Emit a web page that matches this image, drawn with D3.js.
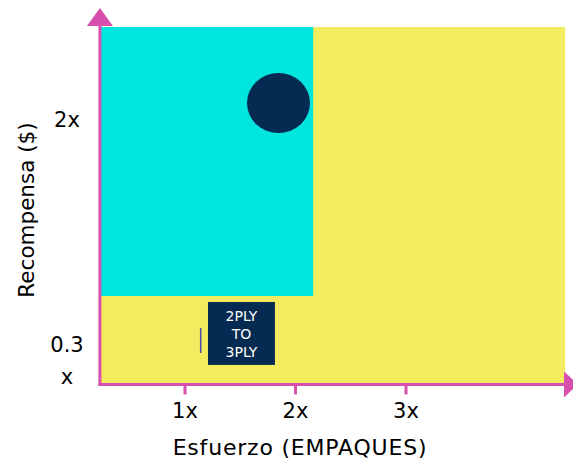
<!DOCTYPE html>
<html>
<head>
<meta charset="utf-8">
<script src="https://cdn.jsdelivr.net/npm/d3@7"></script>
<style>
  body { margin: 0; background: #fff; }
  svg text { font-family: "DejaVu Sans", sans-serif; }
</style>
</head>
<body>
<svg width="573" height="463"></svg>
<script>
// axis ticks
var xTicks = [1, 2, 3];
var xTickLabels = ["1x", "2x", "3x"];
var yTicks = [2, 0.3];
var yTickLabels = [["2x"], ["0.3", "x"]];

// quadrant areas (data units)
var quadrants = [
  { x0: 0.23, x1: 4.44, y0: 0.145, y1: 2.655, color: "#f3ec5e" },
  { x0: 0.23, x1: 2.16, y0: 0.758, y1: 2.655, color: "#00e5de" }
];

// bubble and product box
var bubble = { cx: 1.846, cy: 2.119, rx: 0.285, ry: 0.212 };
var productBox = { x0: 1.208, x1: 1.814, y0: 0.272, y1: 0.716 };
var productLines = ["2PLY", "TO", "3PLY"];
var marker = { x: 1.142, y0: 0.356, y1: 0.532 };

var svg = d3.select("svg");
var pink = "#d84fae";

var x = d3.scaleLinear().domain([0, 1]).range([74.5, 185]);
var y = d3.scaleLinear().domain([0, 1]).range([403.5, 261.7]);

svg.selectAll("rect.quad").data(quadrants).enter().append("rect")
  .attr("class", "quad")
  .attr("x", function(d) { return x(d.x0); })
  .attr("y", function(d) { return y(d.y1); })
  .attr("width", function(d) { return x(d.x1) - x(d.x0); })
  .attr("height", function(d) { return y(d.y0) - y(d.y1); })
  .attr("fill", function(d) { return d.color; });

svg.append("ellipse")
  .attr("cx", x(bubble.cx)).attr("cy", y(bubble.cy))
  .attr("rx", x(bubble.rx) - x(0)).attr("ry", y(0) - y(bubble.ry))
  .attr("fill", "#062b52");

svg.append("rect")
  .attr("x", x(productBox.x0)).attr("y", y(productBox.y1))
  .attr("width", x(productBox.x1) - x(productBox.x0))
  .attr("height", y(productBox.y0) - y(productBox.y1))
  .attr("fill", "#062b52");

var boxMid = (x(productBox.x0) + x(productBox.x1)) / 2;
svg.selectAll("text.prod").data(productLines).enter().append("text")
  .attr("class", "prod")
  .attr("x", boxMid)
  .attr("y", function(d, i) { return y(productBox.y1) + 19 + i * 18; })
  .attr("text-anchor", "middle")
  .attr("fill", "#fff")
  .attr("font-size", 14)
  .text(function(d) { return d; });

svg.append("line")
  .attr("x1", x(marker.x)).attr("x2", x(marker.x))
  .attr("y1", y(marker.y0)).attr("y2", y(marker.y1))
  .attr("stroke", "#4b4ba8").attr("stroke-width", 1.5);

// axes
var ax0 = x(0.23), ay0 = y(0.145) + 1.5;
svg.append("line").attr("x1", ax0).attr("x2", ax0).attr("y1", 24).attr("y2", ay0 + 1.5)
  .attr("stroke", pink).attr("stroke-width", 3);
svg.append("line").attr("x1", ax0 - 1.5).attr("x2", 566).attr("y1", ay0).attr("y2", ay0)
  .attr("stroke", pink).attr("stroke-width", 3);
svg.append("path").attr("d", "M" + (ax0 - 13) + ",26L" + ax0 + ",8L" + (ax0 + 13) + ",26Z")
  .attr("fill", pink);
svg.append("path").attr("d", "M564," + (ay0 - 13) + "L578," + ay0 + "L564," + (ay0 + 13) + "Z")
  .attr("fill", pink);

svg.selectAll("line.xtick").data(xTicks).enter().append("line")
  .attr("x1", function(d) { return x(d); }).attr("x2", function(d) { return x(d); })
  .attr("y1", ay0).attr("y2", ay0 + 10)
  .attr("stroke", pink).attr("stroke-width", 3);

svg.selectAll("text.xtl").data(xTicks).enter().append("text")
  .attr("x", function(d) { return x(d); })
  .attr("y", 418)
  .attr("text-anchor", "middle")
  .attr("font-size", 21)
  .text(function(d, i) { return xTickLabels[i]; });

yTicks.forEach(function(v, i) {
  var lines = yTickLabels[i];
  var t = svg.append("text").attr("text-anchor", "middle").attr("font-size", 21)
    .attr("x", 67).attr("y", y(v) - (lines.length - 1) * 16 + 7);
  lines.forEach(function(s, j) {
    t.append("tspan").attr("x", 67).attr("dy", j ? 32 : 0).text(s);
  });
});

svg.append("text").attr("x", 300).attr("y", 455).attr("text-anchor", "middle")
  .attr("font-size", 22).attr("letter-spacing", 0.8).text("Esfuerzo (EMPAQUES)");
svg.append("text").attr("transform", "translate(34,210) rotate(-90)")
  .attr("text-anchor", "middle").attr("font-size", 21.5).text("Recompensa ($)");
</script>
</body>
</html>
